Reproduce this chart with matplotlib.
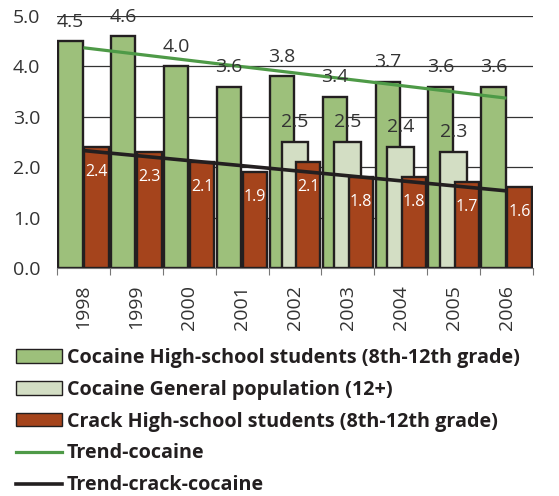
import matplotlib
matplotlib.use("Agg")
import matplotlib.pyplot as plt
from matplotlib.patches import Patch
from matplotlib.lines import Line2D
import numpy as np

years = ["1998", "1999", "2000", "2001", "2002", "2003", "2004", "2005", "2006"]
cocaine_hs = [4.5, 4.6, 4.0, 3.6, 3.8, 3.4, 3.7, 3.6, 3.6]
cocaine_gen = [None, None, None, None, 2.5, 2.5, 2.4, 2.3, None]
crack_hs = [2.4, 2.3, 2.1, 1.9, 2.1, 1.8, 1.8, 1.7, 1.6]
trend_cocaine = [4.37, 3.37]      # values at 1998 and 2006
trend_crack = [2.33, 1.53]        # values at 1998 and 2006

labels = ["Cocaine High-school students (8th-12th grade)",
          "Cocaine General population (12+)",
          "Crack High-school students (8th-12th grade)",
          "Trend-cocaine",
          "Trend-crack-cocaine"]

c_green = "#9DC07B"
c_light = "#D3DEC4"
c_red = "#A5441C"
c_tgreen = "#4E9A47"
c_black = "#231F20"
c_text = "#333333"

plt.rcParams['font.family'] = ['Open Sans', 'DejaVu Sans']

fig = plt.figure(figsize=(5.59, 4.96), dpi=100)
ax = fig.add_axes([57/559, 1-268/496, (533-57)/559, (268-16)/496])

x = np.arange(len(years))
for i in x:
    ax.bar(i - 0.246, cocaine_hs[i], width=0.46, color=c_green, edgecolor=c_black, linewidth=1.7, zorder=2)
    if cocaine_gen[i] is not None:
        ax.bar(i, cocaine_gen[i], width=0.51, color=c_light, edgecolor=c_black, linewidth=1.7, zorder=3)
    ax.bar(i + 0.246, crack_hs[i], width=0.46, color=c_red, edgecolor=c_black, linewidth=1.7, zorder=4)

ax.plot([x[0], x[-1]], trend_cocaine, color=c_tgreen, lw=2.3, zorder=5, solid_capstyle='butt')
ax.plot([x[0], x[-1]], trend_crack, color=c_black, lw=2.6, zorder=5, solid_capstyle='butt')

for i in x:
    ax.annotate(f"{cocaine_hs[i]:.1f}", (i - 0.246, cocaine_hs[i]), xytext=(0, 14),
                textcoords='offset points', ha='center', va='center', fontsize=14,
                color=c_text, zorder=6, annotation_clip=False)
    if cocaine_gen[i] is not None:
        ax.annotate(f"{cocaine_gen[i]:.1f}", (i, cocaine_gen[i]), xytext=(0, 14.5),
                    textcoords='offset points', ha='center', va='center', fontsize=14,
                    color=c_text, zorder=6)
    ax.annotate(f"{crack_hs[i]:.1f}", (i + 0.246, crack_hs[i]), xytext=(0, -18),
                textcoords='offset points', ha='center', va='center', fontsize=11.5,
                color='white', zorder=6)

ax.set_xlim(-0.5, len(years) - 0.5)
ax.set_ylim(0, 5)
ax.set_yticks(np.arange(0, 5.1, 1.0))
ax.set_yticklabels([f"{v:.1f}" for v in np.arange(0, 5.1, 1.0)])
ax.yaxis.grid(True, color=c_text, lw=0.9, zorder=0)
ax.set_axisbelow(True)
ax.tick_params(axis='y', length=0, pad=12, labelsize=14, labelcolor=c_text)

ax.set_xticks(x)
ax.set_xticklabels(years, rotation=90)
ax.set_xticks(np.arange(-0.5, len(years)), minor=True)
ax.tick_params(axis='x', which='major', length=0, pad=12, labelsize=14, labelcolor=c_text)
ax.tick_params(axis='x', which='minor', length=5, width=0.8, color='#777777')

for s in ['left', 'right', 'top']:
    ax.spines[s].set_visible(False)
ax.spines['bottom'].set_color('#777777')
ax.spines['bottom'].set_linewidth(0.8)

handles = [Patch(facecolor=c_green, edgecolor=c_black, lw=1),
           Patch(facecolor=c_light, edgecolor=c_black, lw=1),
           Patch(facecolor=c_red, edgecolor=c_black, lw=1),
           Line2D([], [], color=c_tgreen, lw=2.3),
           Line2D([], [], color=c_black, lw=2.6)]
fig.legend(handles, labels, loc='upper left', bbox_to_anchor=(16/559, 1-348/496),
           frameon=False, borderpad=0, borderaxespad=0, handlelength=2.33,
           handleheight=0.66, handletextpad=0.25, labelspacing=0.6,
           prop={'weight': 'bold', 'size': 14.2})
for t in fig.legends[0].get_texts():
    t.set_color(c_black)

fig.savefig("out.png", dpi=100)
